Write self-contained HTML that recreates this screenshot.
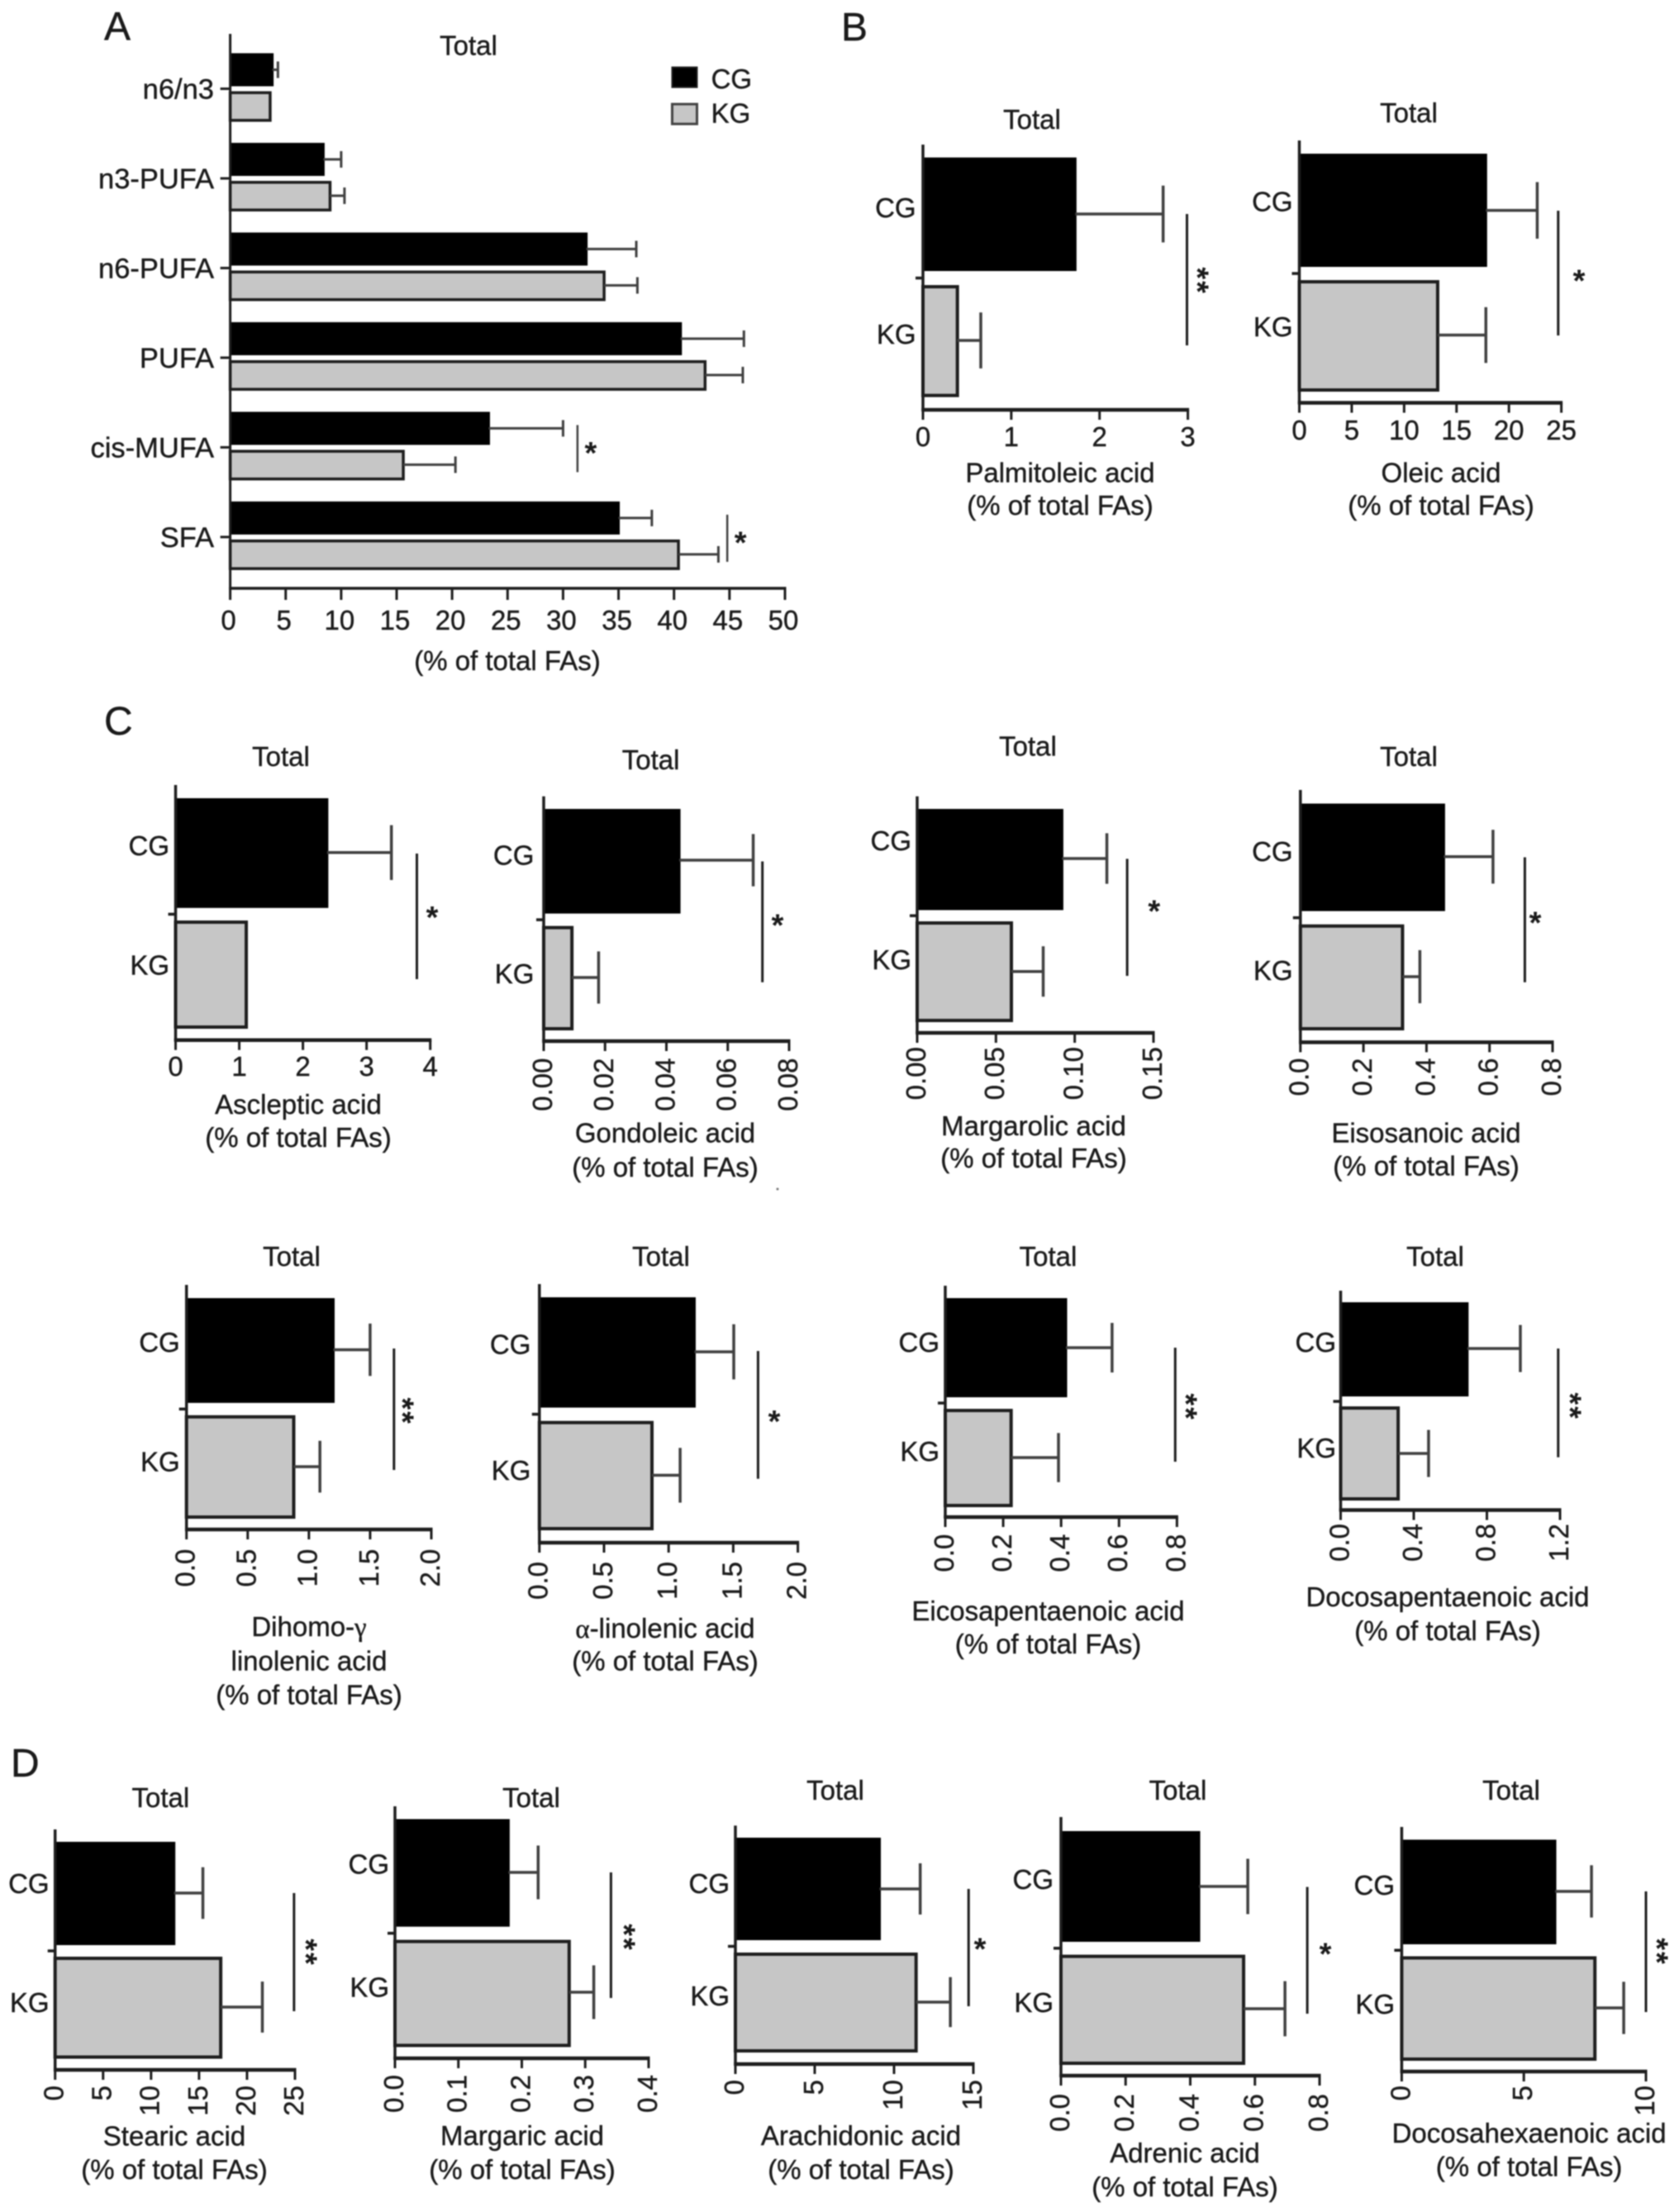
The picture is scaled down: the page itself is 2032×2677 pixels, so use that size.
<!DOCTYPE html>
<html lang="en">
<head>
<meta charset="utf-8">
<title>Fatty acid composition, CG vs KG</title>
<style>
html,body{margin:0;padding:0;background:#fff;}
svg{display:block;width:2032px;height:2677px;filter:blur(0.8px);}
text{font-family:"Liberation Sans",sans-serif;font-size:33px;fill:#1a1a1a;stroke:#1a1a1a;stroke-width:0.4px;}
</style>
</head>
<body>
<svg id="figure" xmlns="http://www.w3.org/2000/svg" width="2032" height="2677" viewBox="0 0 2032 2677">
<rect x="0" y="0" width="2032" height="2677" fill="#ffffff"/>
<text x="126" y="48" style="font-size:48px">A</text>
<text x="1018" y="49" style="font-size:48px">B</text>
<text x="126" y="889" style="font-size:48px">C</text>
<text x="13" y="2150" style="font-size:48px">D</text>
<circle cx="941" cy="1439" r="1.5" fill="#777"/>
</svg>
<script>
/* ---------- Panel A data ---------- */
const groupCategories = ["n6/n3","n3-PUFA","n6-PUFA","PUFA","cis-MUFA","SFA"];
const groupCgMeans = [3.8,8.4,32.1,40.6,23.3,35.0];
const groupCgErrorEnds = [4.3,10.0,36.6,46.3,30.0,38.0];
const groupKgMeans = [3.6,9.0,33.7,42.8,15.6,40.4];
const groupKgErrorEnds = [null,10.3,36.7,46.2,20.3,44.0];
const groupTickLabels = ["0","5","10","15","20","25","30","35","40","45","50"];
const groupSigCategories = ["cis-MUFA","SFA"];
const groupSigValues = [31.3,44.8];
const groupSigStars = ["*","*"];

/* ---------- Small panel data ---------- */
const panelNames = ["palmitoleic","oleic","ascleptic","gondoleic","margarolic","eisosanoic","dihomo-gamma-linolenic","alpha-linolenic","eicosapentaenoic","docosapentaenoic","stearic","margaric","arachidonic","adrenic","docosahexaenoic"];
const panelXLabels = [
 ["Palmitoleic acid","(% of total FAs)"],
 ["Oleic acid","(% of total FAs)"],
 ["Ascleptic acid","(% of total FAs)"],
 ["Gondoleic acid","(% of total FAs)"],
 ["Margarolic acid","(% of total FAs)"],
 ["Eisosanoic acid","(% of total FAs)"],
 ["Dihomo-γ","linolenic acid","(% of total FAs)"],
 ["α-linolenic acid","(% of total FAs)"],
 ["Eicosapentaenoic acid","(% of total FAs)"],
 ["Docosapentaenoic acid","(% of total FAs)"],
 ["Stearic acid","(% of total FAs)"],
 ["Margaric acid","(% of total FAs)"],
 ["Arachidonic acid","(% of total FAs)"],
 ["Adrenic acid","(% of total FAs)"],
 ["Docosahexaenoic acid","(% of total FAs)"]
];
const cgMeans = [1.725,17.8,2.38,0.0442,0.092,0.455,1.2,1.2,0.4166,0.693,12.4,0.179,9.09,0.427,6.28];
const cgErrorEnds = [2.72,22.7,3.39,0.0683,0.1204,0.611,1.5,1.504,0.576,0.983,15.4,0.2258,11.65,0.578,7.77];
const kgMeans = [0.39,13.2,1.11,0.0092,0.0598,0.324,0.876,0.871,0.2274,0.3146,17.26,0.2747,11.39,0.565,7.91];
const kgErrorEnds = [0.655,17.8,null,0.0179,0.08,0.379,1.09,1.089,0.391,0.481,21.6,0.3135,13.55,0.693,9.09];
const sigValues = [2.99,24.7,3.79,0.0713,0.1333,0.712,1.695,1.692,0.794,1.19,24.9,0.3406,14.7,0.762,10.0];
const sigStars = ["**","*","*","*","*","*","**","*","**","**","**","**","*","*","**"];
const axisMaxima = [3,25,4,0.08,0.15,0.8,2,2,0.8,1.2,25,0.4,15,0.8,10];
const panelTickLabels = [
 ["0","1","2","3"],
 ["0","5","10","15","20","25"],
 ["0","1","2","3","4"],
 ["0.00","0.02","0.04","0.06","0.08"],
 ["0.00","0.05","0.10","0.15"],
 ["0.0","0.2","0.4","0.6","0.8"],
 ["0.0","0.5","1.0","1.5","2.0"],
 ["0.0","0.5","1.0","1.5","2.0"],
 ["0.0","0.2","0.4","0.6","0.8"],
 ["0.0","0.4","0.8","1.2"],
 ["0","5","10","15","20","25"],
 ["0.0","0.1","0.2","0.3","0.4"],
 ["0","5","10","15"],
 ["0.0","0.2","0.4","0.6","0.8"],
 ["0","5","10"]
];

/* ---------- Panel frames (plot geometry, separate from the data) ---------- */
const panelFrames = [
 {x0:1117,x1:1437.6,top:175,axisY:496,cgT:190.6,cgB:328,kgT:345,kgB:480.6,cgErrY:259,kgErrY:412,labelR:1108.6,cgLabelY:251,kgLabelY:404,titleX:1249,titleY:144,tickY:528,rot:false,xlabX:1283,xlabY:[571.6,611],sigT:259,sigB:418,starX:1457,starY:340},
 {x0:1572.5,x1:1889.6,top:170,axisY:487.5,cgT:186,cgB:323,kgT:339,kgB:474,cgErrY:254.6,kgErrY:405.5,labelR:1564.6,cgLabelY:243.5,kgLabelY:395,titleX:1705,titleY:136,tickY:520,rot:false,xlabX:1744,xlabY:[571.6,611],sigT:255,sigB:406,starX:1911,starY:332},
 {x0:212.5,x1:520.7,top:950,axisY:1258.7,cgT:966,cgB:1098.8,kgT:1114,kgB:1245,cgErrY:1031.8,kgErrY:1180,labelR:205,cgLabelY:1023,kgLabelY:1167.6,titleX:340,titleY:915,tickY:1290,rot:false,xlabX:361,xlabY:[1336,1376],sigT:1033,sigB:1185,starX:523,starY:1102.6},
 {x0:658,x1:955,top:963.7,axisY:1260,cgT:979,cgB:1105.6,kgT:1120.6,kgB:1247,cgErrY:1041,kgErrY:1183,labelR:646.4,cgLabelY:1034.5,kgLabelY:1178,titleX:787.6,titleY:919,tickY:1280.5,rot:true,xlabX:805,xlabY:[1370.5,1412],sigT:1042.5,sigB:1188.7,starX:941,starY:1112},
 {x0:1110,x1:1396,top:963.7,axisY:1250,cgT:979,cgB:1101.4,kgT:1115,kgB:1237,cgErrY:1039,kgErrY:1175.7,labelR:1103,cgLabelY:1017,kgLabelY:1161,titleX:1244,titleY:902.4,tickY:1267,rot:true,xlabX:1251,xlabY:[1362,1401],sigT:1039.4,sigB:1181,starX:1396.8,starY:1095},
 {x0:1573.8,x1:1879,top:956,axisY:1261.4,cgT:972.5,cgB:1102.6,kgT:1118.7,kgB:1247,cgErrY:1036.8,kgErrY:1182,labelR:1564.6,cgLabelY:1030,kgLabelY:1174,titleX:1705,titleY:915,tickY:1280.5,rot:true,xlabX:1726,xlabY:[1370.5,1410.6],sigT:1037.5,sigB:1188.7,starX:1858,starY:1109},
 {x0:225.7,x1:522,top:1555,axisY:1851,cgT:1571,cgB:1697.8,kgT:1712.7,kgB:1838,cgErrY:1633.5,kgErrY:1775,labelR:217.7,cgLabelY:1624,kgLabelY:1768.6,titleX:353,titleY:1520,tickY:1874.6,rot:true,xlabX:374,xlabY:[1968,2009.7,2050.6],sigT:1632,sigB:1779,starX:495,starY:1708},
 {x0:652.8,x1:965.6,top:1554,axisY:1867,cgT:1570,cgB:1703.5,kgT:1719.6,kgB:1852,cgErrY:1636,kgErrY:1785.4,labelR:642.4,cgLabelY:1626.6,kgLabelY:1779,titleX:800,titleY:1520,tickY:1890,rot:true,xlabX:805,xlabY:[1970,2009.7],sigT:1635,sigB:1789.6,starX:937,starY:1712.7},
 {x0:1144,x1:1424.4,top:1556,axisY:1836,cgT:1571,cgB:1691,kgT:1705,kgB:1824,cgErrY:1631,kgErrY:1764,labelR:1137,cgLabelY:1624,kgLabelY:1756,titleX:1268.5,titleY:1520,tickY:1856.6,rot:true,xlabX:1268.5,xlabY:[1949,1989],sigT:1631,sigB:1769,starX:1443,starY:1703},
 {x0:1622.5,x1:1888,top:1562,axisY:1827.5,cgT:1576,cgB:1690,kgT:1702,kgB:1816,cgErrY:1632,kgErrY:1759,labelR:1617,cgLabelY:1624,kgLabelY:1752,titleX:1737,titleY:1520,tickY:1844,rot:true,xlabX:1752,xlabY:[1932,1973],sigT:1632,sigB:1763.6,starX:1908,starY:1702},
 {x0:66.7,x1:357,top:2214,axisY:2505,cgT:2229,cgB:2354,kgT:2368,kgB:2491.5,cgErrY:2291,kgErrY:2429,labelR:59.6,cgLabelY:2279,kgLabelY:2423,titleX:194.4,titleY:2175,tickY:2524,rot:true,xlabX:211,xlabY:[2584.4,2625],sigT:2291,sigB:2434,starX:378,starY:2363},
 {x0:478,x1:785,top:2186,axisY:2491,cgT:2201.5,cgB:2331.7,kgT:2347.6,kgB:2477.4,cgErrY:2266,kgErrY:2411,labelR:471,cgLabelY:2255.7,kgLabelY:2404.7,titleX:643,titleY:2175,tickY:2511,rot:true,xlabX:632,xlabY:[2584,2625],sigT:2266,sigB:2418,starX:763,starY:2345},
 {x0:890,x1:1178,top:2209.4,axisY:2498,cgT:2224,cgB:2348,kgT:2363,kgB:2484,cgErrY:2286,kgErrY:2423,labelR:883,cgLabelY:2279,kgLabelY:2415,titleX:1011,titleY:2166,tickY:2517,rot:true,xlabX:1042,xlabY:[2584,2625],sigT:2286,sigB:2428,starX:1186,starY:2351},
 {x0:1284,x1:1597,top:2199,axisY:2512,cgT:2216,cgB:2350,kgT:2365.6,kgB:2499,cgErrY:2283,kgErrY:2431,labelR:1275,cgLabelY:2274,kgLabelY:2423,titleX:1425.5,titleY:2166,tickY:2534,rot:true,xlabX:1434,xlabY:[2605,2646],sigT:2283.6,sigB:2437,starX:1604,starY:2357},
 {x0:1696.4,x1:1992,top:2211,axisY:2507,cgT:2226.4,cgB:2353,kgT:2367.5,kgB:2494,cgErrY:2289,kgErrY:2430,labelR:1688,cgLabelY:2281,kgLabelY:2425,titleX:1829,titleY:2166,tickY:2524,rot:true,xlabX:1850.6,xlabY:[2581,2621.7],sigT:2289,sigB:2435,starX:2013,starY:2362}
];

const SVG_NS = "http://www.w3.org/2000/svg";
const svg = document.getElementById("figure");
const INK = "#1e1e1e";
const ERR = "#404040";
const GRAY = "#c6c6c6";
const FS = 33;

function addLine(parent, x1, y1, x2, y2, width, color, name) {
  const el = document.createElementNS(SVG_NS, "line");
  el.setAttribute("x1", x1);
  el.setAttribute("y1", y1);
  el.setAttribute("x2", x2);
  el.setAttribute("y2", y2);
  el.setAttribute("stroke", color);
  el.setAttribute("stroke-width", width);
  
  
  parent.appendChild(el);
  return el;
}
function addRect(parent, x, y, w, h, fill, stroke, sw, name) {
  const el = document.createElementNS(SVG_NS, "rect");
  el.setAttribute("x", x);
  el.setAttribute("y", y);
  el.setAttribute("width", Math.max(0, w));
  el.setAttribute("height", h);
  el.setAttribute("fill", fill);
  if (stroke) {
    el.setAttribute("stroke", stroke);
    el.setAttribute("stroke-width", sw);
  }
  
  
  parent.appendChild(el);
  return el;
}
/* Writes a string; Greek letters use the serif family like the source figure. */
function fillText(el, str) {
  for (const part of str.split(/([αγ])/)) {
    if (!part) continue;
    if (part === "α" || part === "γ") {
      const ts = document.createElementNS(SVG_NS, "tspan");
      ts.setAttribute("style", 'font-family:"Liberation Serif",serif');
      ts.textContent = part;
      el.appendChild(ts);
    } else {
      el.appendChild(document.createTextNode(part));
    }
  }
}
/* y is the vertical centre of the capitals */
function addText(parent, str, x, y, anchor, name) {
  const el = document.createElementNS(SVG_NS, "text");
  el.setAttribute("x", x);
  el.setAttribute("y", y + FS * 0.36);
  el.setAttribute("text-anchor", anchor);
  fillText(el, str);
  
  
  parent.appendChild(el);
  return el;
}
/* reads bottom-to-top; top end sits at yTop */
function addRotatedTick(parent, str, x, yTop, name) {
  const el = document.createElementNS(SVG_NS, "text");
  const bx = x + FS * 0.36 - 2;
  el.setAttribute("x", bx);
  el.setAttribute("y", yTop);
  el.setAttribute("text-anchor", "end");
  el.setAttribute("transform", "rotate(-90 " + bx + " " + yTop + ")");
  el.textContent = str;
  
  
  parent.appendChild(el);
  return el;
}
function addStars(parent, stars, cx, cy, name) {
  const el = document.createElementNS(SVG_NS, "text");
  const size = 38;
  const lift = size * 0.54;
  el.setAttribute("text-anchor", "middle");
  el.setAttribute("style", "font-size:" + size + "px;font-weight:bold;stroke-width:0");
  if (stars.length > 1) {
    const bx = cx - lift;
    el.setAttribute("x", bx);
    el.setAttribute("y", cy);
    el.setAttribute("letter-spacing", "2");
    el.setAttribute("transform", "rotate(90 " + bx + " " + cy + ")");
  } else {
    el.setAttribute("x", cx);
    el.setAttribute("y", cy + lift);
  }
  el.textContent = stars;
  
  
  parent.appendChild(el);
  return el;
}
function addGroup(name) {
  const g = document.createElementNS(SVG_NS, "g");
  
  
  svg.appendChild(g);
  return g;
}
function linearX(x0, x1, maxValue) {
  return function (v) { return x0 + (x1 - x0) * v / maxValue; };
}
function addErrorBar(parent, xFrom, xTo, y, capHalf, width, name) {
  addLine(parent, xFrom, y, xTo, y, width, ERR, name + "-stem");
  addLine(parent, xTo, y - capHalf, xTo, y + capHalf, width, ERR, name + "-cap");
}
function addKgBar(parent, x0, xEnd, top, bottom, sw, name) {
  addRect(parent, x0, top + sw / 2, xEnd - x0, bottom - top - sw, GRAY, INK, sw, name);
}

/* ---------- Panel A ---------- */
(function drawPanelA() {
  const g = addGroup("panel-a-total-chart");
  const X0 = 278.6, X1 = 950, TOP = 41, AXIS_Y = 712;
  const FIRST_TICK = 107.4, PITCH = 108.5;
  const x = linearX(X0, X1, 50);
  const rowY = function (i) { return FIRST_TICK + PITCH * i; };

  addText(g, "Total", 567, 54.5, "middle", "panel-a-title");

  groupCategories.forEach(function (cat, i) {
    const y = rowY(i);
    const slug = cat.toLowerCase().replace(/[^a-z0-9]+/g, "-");
    addRect(g, X0, y - 43, x(groupCgMeans[i]) - X0 + 1.5, 40, "#000000", null, 0, "cg-bar-" + slug);
    addKgBar(g, X0, x(groupKgMeans[i]), y + 3, y + 40, 3.5, "kg-bar-" + slug);
    addErrorBar(g, x(groupCgMeans[i]), x(groupCgErrorEnds[i]), y - 23, 10, 3, "cg-error-" + slug);
    if (groupKgErrorEnds[i] !== null) {
      addErrorBar(g, x(groupKgMeans[i]), x(groupKgErrorEnds[i]), y + 21, 10, 3, "kg-error-" + slug);
    }
    addLine(g, X0 - 12, y, X0, y, 3, INK, "y-tick-" + slug);
    const lab = addText(g, cat, 259, y, "end", "y-label-" + slug);
    lab.setAttribute("style", "font-size:34.5px");
  });

  addLine(g, X0, TOP, X0, AXIS_Y + 1.5, 3, INK, "panel-a-y-axis");
  addLine(g, X0 - 1.5, AXIS_Y, X1 + 1.5, AXIS_Y, 3.5, INK, "panel-a-x-axis");
  groupTickLabels.forEach(function (label) {
    const px = x(parseFloat(label));
    addLine(g, px, AXIS_Y, px, AXIS_Y + 14, 3, INK, "x-tick-" + label);
    addText(g, label, px - 2, 750, "middle", "x-tick-label-" + label);
  });
  addText(g, "(% of total FAs)", 614, 799, "middle", "panel-a-x-title");

  groupSigCategories.forEach(function (cat, k) {
    const i = groupCategories.indexOf(cat);
    const y = rowY(i);
    const slug = cat.toLowerCase().replace(/[^a-z0-9]+/g, "-");
    const sx = x(groupSigValues[k]);
    addLine(g, sx, y - 27, sx, y + 30, 2.5, ERR, "significance-line-" + slug);
    addStars(g, groupSigStars[k], sx + 16, y - 1, "significance-stars-" + slug);
  });

  addRect(g, 813.5, 81.5, 30, 24, "#000000", INK, 2, "legend-swatch-cg");
  addText(g, "CG", 860.6, 95, "start", "legend-label-cg");
  addRect(g, 813.5, 126, 30, 24, GRAY, "#444444", 3, "legend-swatch-kg");
  addText(g, "KG", 860.6, 136.6, "start", "legend-label-kg");
})();

/* ---------- Panels B, C, D ---------- */
panelNames.forEach(function (panelName, i) {
  const f = panelFrames[i];
  const g = addGroup("panel-" + panelName);
  const x = linearX(f.x0, f.x1, axisMaxima[i]);

  addText(g, "Total", f.titleX, f.titleY, "middle", panelName + "-title");

  addRect(g, f.x0, f.cgT, x(cgMeans[i]) - f.x0 + 1.5, f.cgB - f.cgT, "#000000", null, 0, panelName + "-cg-bar");
  addKgBar(g, f.x0, x(kgMeans[i]), f.kgT, f.kgB, 4, panelName + "-kg-bar");

  const capCg = (f.cgB - f.cgT) * 0.25;
  const capKg = (f.kgB - f.kgT) * 0.25;
  addErrorBar(g, x(cgMeans[i]), x(cgErrorEnds[i]), f.cgErrY, capCg, 3.5, panelName + "-cg-error");
  if (kgErrorEnds[i] !== null) {
    addErrorBar(g, x(kgMeans[i]), x(kgErrorEnds[i]), f.kgErrY, capKg, 3.5, panelName + "-kg-error");
  }

  addLine(g, f.x0, f.top, f.x0, f.axisY + 1.5, 3.5, INK, panelName + "-y-axis");
  addLine(g, f.x0 - 1.75, f.axisY, f.x1 + 1.5, f.axisY, 4.5, INK, panelName + "-x-axis");
  const mid = (f.cgB + f.kgT) / 2;
  addLine(g, f.x0 - 9, mid, f.x0, mid, 3.5, INK, panelName + "-y-tick");

  addText(g, "CG", f.labelR, f.cgLabelY, "end", panelName + "-label-cg");
  addText(g, "KG", f.labelR, f.kgLabelY, "end", panelName + "-label-kg");

  panelTickLabels[i].forEach(function (label) {
    const px = x(parseFloat(label));
    addLine(g, px, f.axisY, px, f.axisY + 12, 3, INK, panelName + "-x-tick-" + label);
    if (f.rot) {
      addRotatedTick(g, label, px, f.tickY, panelName + "-x-tick-label-" + label);
    } else {
      addText(g, label, px, f.tickY, "middle", panelName + "-x-tick-label-" + label);
    }
  });

  panelXLabels[i].forEach(function (line, n) {
    addText(g, line, f.xlabX, f.xlabY[n], "middle", panelName + "-x-title-line-" + (n + 1));
  });

  const sx = x(sigValues[i]);
  addLine(g, sx, f.sigT, sx, f.sigB, 3, INK, panelName + "-significance-line");
  addStars(g, sigStars[i], f.starX, f.starY, panelName + "-significance-stars");
});
</script>
</body>
</html>
